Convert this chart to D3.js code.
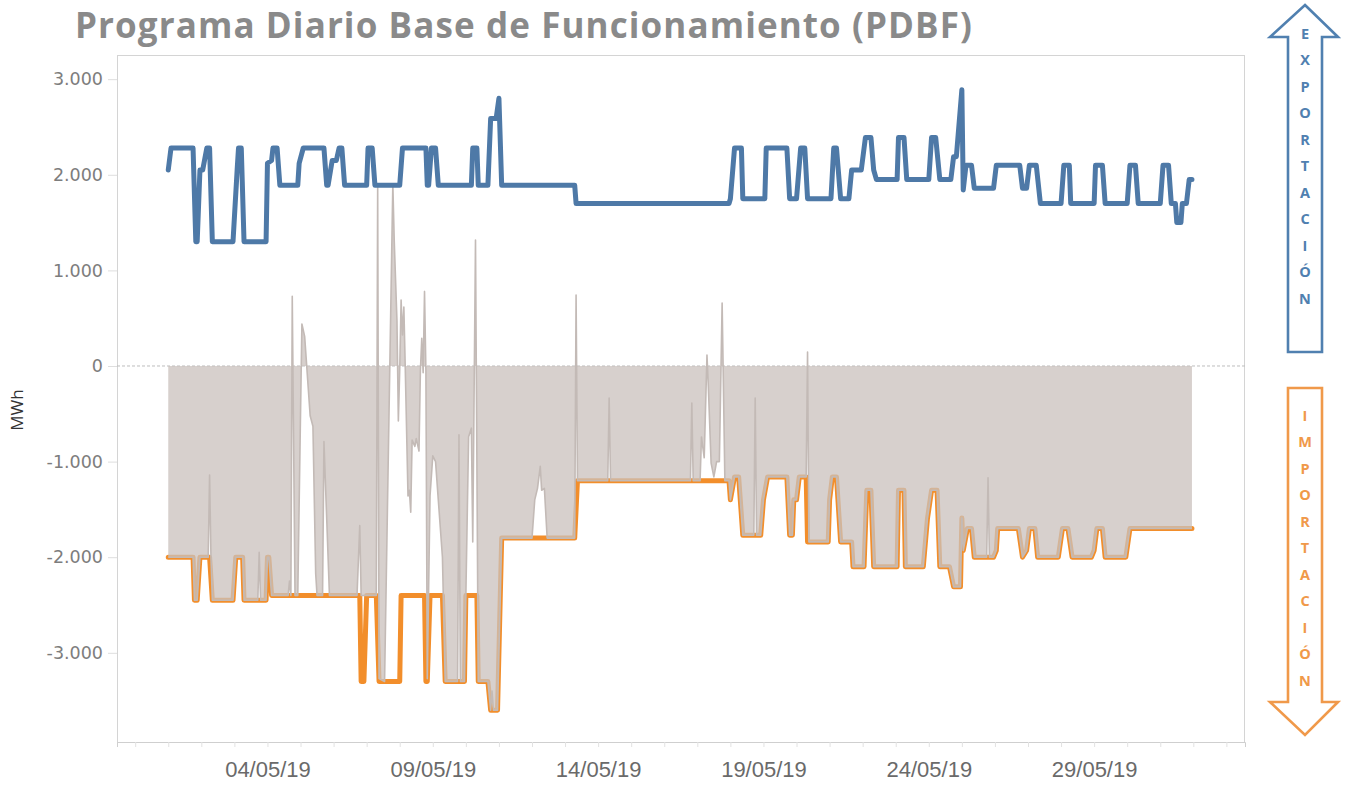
<!DOCTYPE html>
<html>
<head>
<meta charset="utf-8">
<script src="https://cdn.jsdelivr.net/npm/d3@7"></script>
<style>
  body { margin: 0; background: #fff; }
  svg { display: block; }
</style>
</head>
<body>
<svg id="chart" width="1349" height="785"></svg>
<script>
// Hourly schedule for May 2019, given as [hours since 01/05 00:00, MWh] vertices.
const exportProgram = [
  [0,2050],[2,2280],[18,2280],[20,1300],[21,1300],[23,2050],[25,2050],[28,2280],[30,2280],[32,1300],
  [47,1300],[50,2050],[51,2280],[53,2280],[55,1300],[71,1300],[72,2120],[75,2150],[76,2280],[79,2280],
  [81,1890],[94,1890],[95,2120],[98,2280],[113,2280],[115,1890],[116,1890],[119,2150],[122,2150],[124,2280],
  [126,2280],[128,1890],[144,1890],[145,2280],[148,2280],[150,1890],[168,1890],[170,2280],[187,2280],[188,1890],
  [189,1890],[191,2280],[194,2280],[196,1890],[220,1890],[221,2280],[224,2280],[225,1890],[232,1890],[234,2590],
  [238,2590],[240,2800],[242,1890],[295,1890],[296,1700],[407,1700],[408,1750],[411,2280],[416,2280],[417,1750],
  [433,1750],[434,2280],[449,2280],[451,1750],[456,1750],[459,2280],[462,2280],[464,1750],[481,1750],[483,2280],
  [485,2280],[488,1750],[494,1750],[496,2050],[503,2050],[506,2390],[510,2390],[512,2050],[514,1950],[529,1950],
  [530,2390],[534,2390],[536,1950],[552,1950],[554,2390],[557,2390],[560,1950],[568,1950],[570,2190],[572,2190],
  [576,2890],[577,1840],[579,2100],[583,2100],[585,1860],[599,1860],[601,2100],[618,2100],[620,1860],[623,1860],
  [625,2100],[630,2100],[633,1700],[648,1700],[650,2100],[654,2100],[655,1700],[672,1700],[673,2100],[678,2100],
  [680,1700],[696,1700],[698,2100],[702,2100],[704,1700],[720,1700],[722,2100],[726,2100],[728,1700],[731,1700],
  [732,1500],[735,1500],[736,1700],[739,1700],[741,1950],[743,1950]
];

const importProgram = [
  [0,-2000],[18,-2000],[19,-2450],[21,-2450],[23,-2000],[30,-2000],[32,-2450],[47,-2450],[49,-2000],[54,-2000],
  [55,-2450],[71,-2450],[72,-2000],[73,-2000],[75,-2400],[139,-2400],[140,-3300],[142,-3300],[144,-2400],[151,-2400],
  [153,-3300],[168,-3300],[169,-2400],[186,-2400],[187,-3300],[188,-3300],[190,-2400],[199,-2400],[201,-3300],[215,-3300],
  [216,-2400],[224,-2400],[225,-3300],[232,-3300],[234,-3600],[239,-3600],[242,-1800],[295,-1800],[297,-1200],[407,-1200],
  [408,-1400],[411,-1160],[414,-1160],[417,-1770],[430,-1770],[432,-1400],[435,-1160],[449,-1160],[451,-1770],[453,-1770],
  [454,-1400],[456,-1400],[458,-1160],[463,-1160],[464,-1840],[479,-1840],[480,-1400],[482,-1160],[485,-1160],[488,-1840],
  [496,-1840],[497,-2100],[505,-2100],[507,-1300],[510,-1300],[512,-2100],[529,-2100],[530,-1300],[534,-1300],[535,-2100],
  [548,-2100],[551,-1600],[554,-1300],[558,-1300],[560,-2100],[567,-2100],[570,-2310],[575,-2310],[576,-1590],[577,-1930],
  [580,-1700],[583,-1700],[585,-2000],[599,-2000],[601,-1930],[602,-1700],[617,-1700],[620,-2000],[623,-1930],[625,-1700],
  [629,-1700],[631,-2000],[646,-2000],[649,-1700],[653,-1700],[656,-2000],[670,-2000],[672,-1930],[674,-1700],[678,-1700],
  [680,-2000],[695,-2000],[698,-1700],[743,-1700]
];

const netExchange = [
  [0,-2000],[18,-2000],[19,-2450],[21,-2450],[23,-2000],[29,-2000],[30,-1140],[31,-2000],[32,-2450],[47,-2450],
  [49,-2000],[54,-2000],[55,-2450],[65,-2450],[66,-1950],[67,-2450],[71,-2450],[72,-2000],[73,-2000],[75,-2400],
  [87,-2400],[88,-2250],[89,-2400],[90,730],[92,-2400],[94,-2400],[97,440],[99,310],[103,-520],[105,-630],
  [107,-2170],[108,-2400],[112,-2400],[113,-790],[117,-2400],[137,-2400],[139,-1670],[140,-2400],[151,-2400],[152,1900],
  [153,-3270],[157,-3300],[163,1900],[164,1317],[166,470],[167,-575],[168,-40],[169,690],[170,325],[171,617],
  [172,-10],[174,-1360],[175,-1300],[176,-1530],[177,-775],[179,-840],[180,-760],[182,-890],[183,-50],[184,290],
  [185,-70],[186,780],[187,-50],[188,-3270],[190,-1360],[192,-940],[194,-1000],[196,-1400],[199,-2000],[201,-3300],
  [210,-3300],[211,-720],[212,-3300],[215,-3300],[216,-2400],[218,-740],[220,-650],[221,-1840],[223,1317],[225,-3300],
  [232,-3300],[234,-3600],[235,-3400],[236,-3600],[239,-3600],[242,-1800],[264,-1800],[266,-1400],[268,-1280],[270,-1050],
  [271,-1300],[273,-1280],[275,-1800],[295,-1800],[296,742],[297,-1200],[319,-1200],[320,-334],[321,-1200],[379,-1200],
  [380,-387],[381,-1200],[386,-1200],[387,-742],[389,-960],[391,115],[392,-219],[394,-1015],[396,-1160],[398,-1000],
  [400,-1000],[402,658],[404,-1200],[407,-1200],[408,-1400],[411,-1160],[414,-1160],[417,-1770],[425,-1770],[426,-334],
  [427,-1770],[430,-1770],[432,-1400],[435,-1160],[449,-1160],[451,-1770],[453,-1770],[454,-1400],[456,-1400],[458,-1160],
  [463,-1160],[464,146],[465,-1840],[479,-1840],[480,-1400],[482,-1160],[485,-1160],[488,-1840],[496,-1840],[497,-2100],
  [505,-2100],[507,-1300],[510,-1300],[512,-2100],[529,-2100],[530,-1300],[534,-1300],[535,-2100],[548,-2100],[551,-1600],
  [554,-1300],[558,-1300],[560,-2100],[567,-2100],[570,-2310],[575,-2310],[576,-1590],[577,-1930],[580,-1700],[583,-1700],
  [585,-2000],[594,-2000],[595,-1170],[596,-2000],[599,-2000],[601,-1930],[602,-1700],[617,-1700],[620,-2000],[623,-1930],
  [625,-1700],[629,-1700],[631,-2000],[646,-2000],[649,-1700],[653,-1700],[656,-2000],[670,-2000],[672,-1930],[674,-1700],
  [678,-1700],[680,-2000],[695,-2000],[698,-1700],[743,-1700]
];

const yTicks = [3000, 2000, 1000, 0, -1000, -2000, -3000];
const dateLabels = ["04/05/19", "09/05/19", "14/05/19", "19/05/19", "24/05/19", "29/05/19"];
const titleText = "Programa Diario Base de Funcionamiento (PDBF)";
const yAxisTitle = "MWh";
const exportWord = "EXPORTACIÓN";
const importWord = "IMPORTACIÓN";

const colors = { export: "#4e79a7", import: "#f28e2b", net: "#c9c0bc", netLine: "#c3bab6" };

const svg = d3.select("#chart");
const plot = { left: 117, right: 1245, top: 55, bottom: 742 };
const monthStart = Date.UTC(2019, 4, 1);
const toDate = h => new Date(monthStart + h * 3600e3);

const x = d3.scaleUtc()
  .domain([toDate(-37.2), toDate(781.5)])
  .range([plot.left, plot.right]);
const y = d3.scaleLinear()
  .domain([-3933, 3253])
  .range([plot.bottom, plot.top]);

// Spanish number style with a plain hyphen for negatives
const esLocale = d3.formatLocale({ decimal: ",", thousands: ".", grouping: [3], currency: ["", " €"], minus: "-" });
const fmt = esLocale.format(",d");

// Title
svg.append("text")
  .attr("x", 75).attr("y", 37.5)
  .attr("font-family", "'Open Sans', sans-serif")
  .attr("font-weight", 700)
  .attr("font-size", 35)
  .attr("letter-spacing", 1.1)
  .attr("fill", "#8a8a8a")
  .text(titleText);

// Frame
svg.append("rect")
  .attr("x", plot.left + 0.5).attr("y", plot.top + 0.5)
  .attr("width", plot.right - plot.left - 1).attr("height", plot.bottom - plot.top)
  .attr("fill", "none").attr("stroke", "#d4d4d4");

// Y axis
const yAxis = svg.append("g")
  .attr("transform", `translate(${plot.left},0)`)
  .call(d3.axisLeft(y).tickValues(yTicks).tickSize(9).tickPadding(5).tickFormat(d => fmt(d)));
yAxis.select(".domain").remove();
yAxis.selectAll(".tick line").attr("stroke", "#dedede");
yAxis.selectAll(".tick text")
  .attr("font-family", "'DejaVu Sans', sans-serif")
  .attr("font-size", 17.5)
  .attr("fill", "#7d7d7d");

// X axis
const xAxis = svg.append("g")
  .attr("transform", `translate(0,${plot.bottom})`)
  .call(d3.axisBottom(x)
    .ticks(d3.utcDay.every(1))
    .tickSize(5)
    .tickPadding(14)
    .tickFormat(d => {
      const s = d3.utcFormat("%d/%m/%y")(d);
      return dateLabels.includes(s) ? s : "";
    }));
xAxis.select(".domain").attr("stroke", "#cfcfcf");
xAxis.selectAll(".tick line").attr("stroke", "#e2e2e2");
xAxis.selectAll(".tick text")
  .attr("font-family", "'Liberation Sans Narrow', 'Liberation Sans', sans-serif")
  .attr("font-size", 22)
  .attr("fill", "#6a6a6a");

// Y axis title
svg.append("text")
  .attr("transform", "translate(23,410) rotate(-90)")
  .attr("text-anchor", "middle")
  .attr("font-family", "'Open Sans', sans-serif")
  .attr("font-size", 17)
  .attr("fill", "#333")
  .text(yAxisTitle);

// Zero reference line
svg.append("line")
  .attr("x1", plot.left).attr("x2", plot.right)
  .attr("y1", y(0)).attr("y2", y(0))
  .attr("stroke", "#bdbdbd")
  .attr("stroke-dasharray", "3,2");

const lineGen = d3.line().x(d => x(toDate(d[0]))).y(d => y(d[1]));
const areaGen = d3.area().x(d => x(toDate(d[0]))).y0(y(0)).y1(d => y(d[1]));

// Import schedule (drawn below the net exchange area)
svg.append("path")
  .datum(importProgram)
  .attr("d", lineGen)
  .attr("fill", "none")
  .attr("stroke", colors.import)
  .attr("stroke-width", 5)
  .attr("stroke-linejoin", "round")
  .attr("stroke-linecap", "round");

// Net exchange area
svg.append("path")
  .datum(netExchange)
  .attr("d", areaGen)
  .attr("fill", colors.net)
  .attr("fill-opacity", 0.75);
svg.append("path")
  .datum(netExchange)
  .attr("d", lineGen)
  .attr("fill", "none")
  .attr("stroke", colors.netLine)
  .attr("stroke-width", 1.6)
  .attr("stroke-linejoin", "round");

// Export schedule
svg.append("path")
  .datum(exportProgram)
  .attr("d", lineGen)
  .attr("fill", "none")
  .attr("stroke", colors.export)
  .attr("stroke-width", 5)
  .attr("stroke-linejoin", "round")
  .attr("stroke-linecap", "round");

// Direction arrows
function drawArrow(g, pts, color, word, letterY0, step) {
  g.append("path")
    .attr("d", d3.line()(pts) + "Z")
    .attr("fill", "#fff")
    .attr("stroke", color)
    .attr("stroke-width", 2.6)
    .attr("stroke-linejoin", "miter");
  g.selectAll("text.letter")
    .data(Array.from(word))
    .join("text")
    .attr("class", "letter")
    .attr("x", 1305)
    .attr("y", (d, i) => letterY0 + i * step)
    .attr("text-anchor", "middle")
    .attr("dominant-baseline", "central")
    .attr("font-family", "'Open Sans', sans-serif")
    .attr("font-weight", 700)
    .attr("font-size", 14.5)
    .attr("fill", color)
    .text(d => d);
}

const upArrow = [[1305,5],[1338,37],[1322,37],[1322,352],[1288,352],[1288,37],[1270,37]];
const downArrow = [[1288,388],[1322,388],[1322,702],[1338,702],[1305,735],[1270,702],[1288,702]];
drawArrow(svg.append("g"), upArrow, "#5080b0", exportWord, 33, 26.5);
drawArrow(svg.append("g"), downArrow, "#f0994a", importWord, 415, 26.5);
</script>
</body>
</html>
